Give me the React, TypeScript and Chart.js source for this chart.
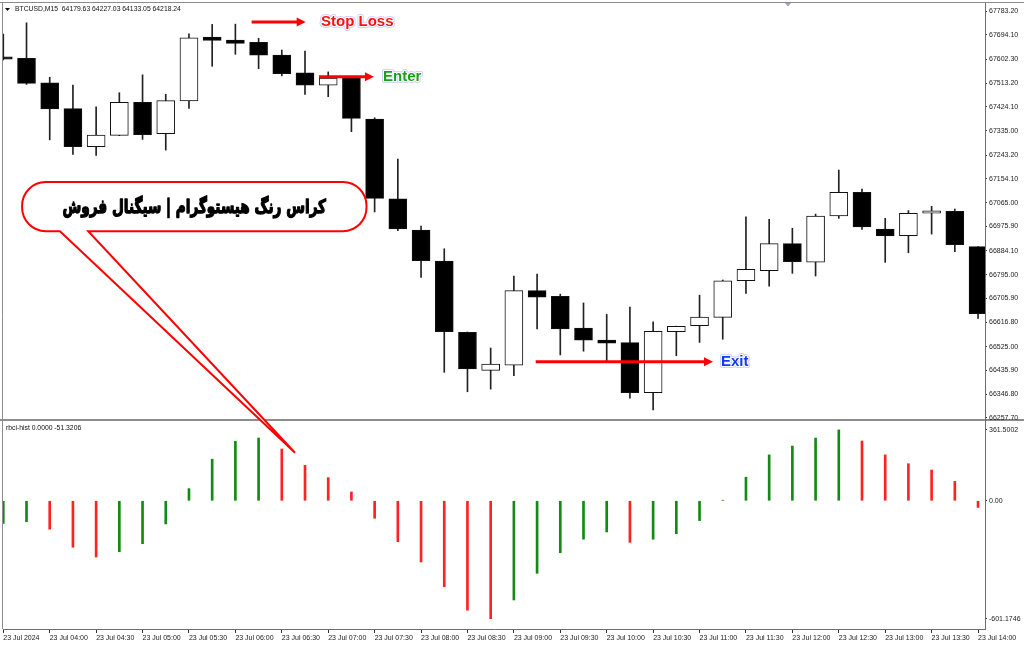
import React, { useEffect, useRef } from 'react';
import { Chart, registerables } from 'chart.js';

Chart.register(...registerables);

// ---------- data ----------
const TIME_LABELS = [
  '23 Jul 2024', '23 Jul 04:00', '23 Jul 04:30', '23 Jul 05:00', '23 Jul 05:30', '23 Jul 06:00',
  '23 Jul 06:30', '23 Jul 07:00', '23 Jul 07:30', '23 Jul 08:00', '23 Jul 08:30', '23 Jul 09:00',
  '23 Jul 09:30', '23 Jul 10:00', '23 Jul 10:30', '23 Jul 11:00', '23 Jul 11:30', '23 Jul 12:00',
  '23 Jul 12:30', '23 Jul 13:00', '23 Jul 13:30', '23 Jul 14:00',
];

const OPEN = [
  67611, 67606, 67514, 67417, 67275, 67317, 67441, 67323, 67446, 67685,
  67674, 67666, 67618, 67551, 67505, 67531, 67378, 67079, 66962, 66846,
  66579, 66436, 66456, 66735, 66714, 66595, 66550, 66540, 66353, 66581,
  66604, 66635, 66772, 66810, 66911, 66842, 67015, 67104, 66966, 66941,
  67025, 67032, 66900,
];
const HIGH = [
  67697, 67739, 67535, 67506, 67424, 67477, 67544, 67471, 67698, 67733,
  67734, 67681, 67637, 67633, 67555, 67536, 67383, 67228, 66977, 66892,
  66580, 66520, 66790, 66797, 66722, 66689, 66646, 66673, 66618, 66602,
  66718, 66775, 67012, 67002, 66969, 67022, 67187, 67116, 67006, 67035,
  67051, 67041, 66900,
];
const LOW = [
  67600, 67508, 67300, 67246, 67242, 67316, 67302, 67262, 67418, 67576,
  67621, 67567, 67540, 67471, 67462, 67331, 67030, 66960, 66785, 66429,
  66356, 66366, 66416, 66592, 66494, 66508, 66469, 66332, 66288, 66491,
  66541, 66553, 66725, 66752, 66800, 66790, 67006, 66965, 66841, 66877,
  66947, 66881, 66631,
];
const CLOSE = [
  67603, 67512, 67416, 67275, 67318, 67441, 67320, 67447, 67683, 67673,
  67662, 67618, 67548, 67505, 67532, 67381, 67081, 66966, 66847, 66581,
  66442, 66460, 66735, 66711, 66592, 66549, 66538, 66353, 66583, 66601,
  66636, 66772, 66815, 66911, 66844, 67015, 67104, 66974, 66940, 67025,
  67034, 66907, 66649,
];

const HIST = [
  -115, -107, -145, -237, -287, -260, -219, -118, 62, 212,
  303, 320, 264, 181, 118, 45, -89, -209, -312, -438,
  -558, -601.1746, -506, -370, -265, -196, -159, -212, -196, -168,
  -101, 3, 120, 234, 279, 320, 361.5002, 305, 234, 189,
  157, 99, -34,
];

const PRICE_TICKS = [
  67783.2, 67694.1, 67602.3, 67513.2, 67424.1, 67335.0, 67243.2, 67154.1, 67065.0,
  66975.9, 66884.1, 66795.0, 66705.9, 66616.8, 66525.0, 66435.9, 66346.8, 66257.7,
];
const HIST_TICKS = [361.5002, 0, -601.1746];
const HIST_TICK_LABELS = ['361.5002', '0.00', '-601.1746'];

const TITLE = 'BTCUSD,M15  64179.63 64227.03 64133.05 64218.24';
const SUBTITLE = 'rbci-hist 0.0000 -51.3206';
const BUBBLE_TEXT = 'کراس رنگ هیستوگرام | سیگنال فروش';

// annotations anchored in data units (bar index / price)
const SIGNALS = [
  { label: 'Stop Loss', price: 67742, fromBar: 10.7, toBar: 13.03, textBar: 13.69, color: '#ff1010' },
  { label: 'Enter', price: 67537, fromBar: 13.6, toBar: 15.97, textBar: 16.36, color: '#1c9e1c' },
  { label: 'Exit', price: 66469, fromBar: 22.94, toBar: 30.58, textBar: 30.92, color: '#1438f0' },
];
const BUBBLE = {
  leftBar: 0.81, rightBar: 15.65, topPrice: 67142, bottomPrice: 66958,
  tailBars: [2.44, 3.66], tipBar: 12.57, tipValue: 245,
};

// ---------- derived ----------
const BODY_FILL = OPEN.map((o, i) => (CLOSE[i] >= o ? '#ffffff' : '#000000'));
const HIST_COLORS = HIST.map((v, i) => (i === 0 || v >= HIST[i - 1] ? '#138a13' : '#ff2222'));

const AXIS_FONT = { family: '"Liberation Sans", Arial, sans-serif', size: 7 };

function haloText(ctx: any, text: string, x: number, y: number, color: string) {
  ctx.font = 'bold 15px "Liberation Sans", Arial, sans-serif';
  ctx.textAlign = 'left';
  ctx.textBaseline = 'middle';
  ctx.lineJoin = 'round';
  ctx.strokeStyle = 'rgba(205,205,255,0.9)';
  ctx.lineWidth = 4;
  ctx.strokeText(text, x, y);
  ctx.strokeStyle = '#ffffff';
  ctx.lineWidth = 2;
  ctx.strokeText(text, x, y);
  ctx.fillStyle = color;
  ctx.fillText(text, x, y);
}

const overlayPlugin = {
  id: 'overlay',
  beforeDraw(chart: any) {
    const { ctx, scales } = chart;
    ctx.save();
    ctx.fillStyle = '#8c8c8c';
    ctx.fillRect(0, scales.y.bottom - 1, chart.width, 2);
    ctx.restore();
  },
  afterDraw(chart: any) {
    const { ctx, chartArea: area, scales } = chart;
    const sx = scales.x;
    const sy = scales.y;
    const sh = scales.y2;
    const W = chart.width;
    ctx.save();

    // frame
    ctx.strokeStyle = '#8c8c8c';
    ctx.lineWidth = 1;
    ctx.beginPath();
    ctx.moveTo(0, area.top - 0.5);
    ctx.lineTo(W, area.top - 0.5);
    ctx.moveTo(area.left - 0.5, area.top - 0.5);
    ctx.lineTo(area.left - 0.5, area.bottom);
    ctx.stroke();
    // pane separator inside plot
    ctx.fillStyle = '#8c8c8c';
    ctx.fillRect(0, sy.bottom - 1, area.right, 2);

    // titles
    ctx.fillStyle = '#111';
    ctx.beginPath();
    ctx.moveTo(5, 8);
    ctx.lineTo(10, 8);
    ctx.lineTo(7.5, 11);
    ctx.closePath();
    ctx.fill();
    ctx.font = '6.8px "Liberation Sans", Arial, sans-serif';
    ctx.textAlign = 'left';
    ctx.textBaseline = 'middle';
    ctx.fillText(TITLE, 15, 9.5);
    ctx.fillText(SUBTITLE, 6, sh.top + 8.5);

    // small shift marker
    ctx.fillStyle = '#a0a0c0';
    ctx.beginPath();
    ctx.moveTo(785, 3);
    ctx.lineTo(791, 3);
    ctx.lineTo(788, 6.5);
    ctx.closePath();
    ctx.fill();

    // signal arrows + labels
    for (const s of SIGNALS) {
      const yy = sy.getPixelForValue(s.price);
      const x1 = sx.getPixelForValue(s.fromBar);
      const x2 = sx.getPixelForValue(s.toBar);
      ctx.strokeStyle = '#ff0000';
      ctx.lineWidth = 3;
      ctx.beginPath();
      ctx.moveTo(x1, yy);
      ctx.lineTo(x2 - 6, yy);
      ctx.stroke();
      ctx.fillStyle = '#ff0000';
      ctx.beginPath();
      ctx.moveTo(x2, yy);
      ctx.lineTo(x2 - 9, yy - 4.5);
      ctx.lineTo(x2 - 9, yy + 4.5);
      ctx.closePath();
      ctx.fill();
      haloText(ctx, s.label, sx.getPixelForValue(s.textBar), yy, s.color);
    }

    // speech bubble
    const bl = sx.getPixelForValue(BUBBLE.leftBar);
    const br = sx.getPixelForValue(BUBBLE.rightBar);
    const bt = sy.getPixelForValue(BUBBLE.topPrice);
    const bb = sy.getPixelForValue(BUBBLE.bottomPrice);
    const r = (bb - bt) / 2 - 1;
    const t1 = sx.getPixelForValue(BUBBLE.tailBars[0]);
    const t2 = sx.getPixelForValue(BUBBLE.tailBars[1]);
    const tipX = sx.getPixelForValue(BUBBLE.tipBar);
    const tipY = sh.getPixelForValue(BUBBLE.tipValue);
    ctx.beginPath();
    ctx.moveTo(t1, bb);
    ctx.lineTo(tipX, tipY);
    ctx.lineTo(t2, bb);
    ctx.lineTo(br - r, bb);
    ctx.arcTo(br, bb, br, bb - r, r);
    ctx.lineTo(br, bt + r);
    ctx.arcTo(br, bt, br - r, bt, r);
    ctx.lineTo(bl + r, bt);
    ctx.arcTo(bl, bt, bl, bt + r, r);
    ctx.lineTo(bl, bb - r);
    ctx.arcTo(bl, bb, bl + r, bb, r);
    ctx.closePath();
    ctx.fillStyle = '#ffffff';
    ctx.fill();
    ctx.strokeStyle = '#ff0000';
    ctx.lineWidth = 2;
    ctx.lineJoin = 'miter';
    ctx.stroke();

    // bubble text: heavy, slightly condensed to fit the bubble like the original
    const cx = (bl + br) / 2;
    const cy = (bt + bb) / 2 + 1;
    ctx.font = 'bold 19px "DejaVu Sans", sans-serif';
    ctx.textAlign = 'center';
    ctx.textBaseline = 'middle';
    ctx.direction = 'rtl';
    const tw = ctx.measureText(BUBBLE_TEXT).width;
    const target = (br - bl) * 0.765;
    ctx.translate(cx, cy);
    ctx.scale(target / tw, 1);
    ctx.fillStyle = '#000';
    ctx.strokeStyle = '#000';
    ctx.lineWidth = 1.3;
    ctx.lineJoin = 'round';
    ctx.strokeText(BUBBLE_TEXT, 0, 0);
    ctx.fillText(BUBBLE_TEXT, 0, 0);

    ctx.restore();
  },
};

export default function App() {
  const ref = useRef<HTMLCanvasElement>(null);

  useEffect(() => {
    const canvas = ref.current;
    if (!canvas) return;
    const chart = new Chart(canvas, {
      type: 'bar',
      data: {
        datasets: [
          {
            label: 'body',
            data: OPEN.map((o, i) => ({ x: i, y: [o, CLOSE[i]] })),
            yAxisID: 'y',
            grouped: false,
            barThickness: 18,
            backgroundColor: BODY_FILL,
            borderColor: '#111111',
            borderWidth: 1,
            borderSkipped: false,
            order: 0,
          } as any,
          {
            label: 'wick',
            data: LOW.map((l, i) => ({ x: i, y: [l, HIGH[i]] })),
            yAxisID: 'y',
            grouped: false,
            barThickness: 1,
            backgroundColor: '#222222',
            borderWidth: 0,
            order: 1,
          } as any,
          {
            label: 'rbci-hist',
            data: HIST.map((v, i) => ({ x: i, y: v })),
            yAxisID: 'y2',
            grouped: false,
            barThickness: 2,
            backgroundColor: HIST_COLORS,
            borderWidth: 0,
            order: 2,
          } as any,
        ],
      },
      options: {
        responsive: false,
        animation: false,
        devicePixelRatio: 1,
        layout: { padding: { left: 3, top: 3, right: 0, bottom: 0 } },
        plugins: { legend: { display: false }, tooltip: { enabled: false } },
        scales: {
          x: {
            type: 'linear',
            min: -0.013,
            max: 42.3,
            offset: false,
            bounds: 'data',
            afterBuildTicks: (s: any) => {
              s.ticks = TIME_LABELS.map((_, k) => ({ value: k * 2 }));
            },
            afterFit: (s: any) => {
              s.height = 17;
              s.paddingLeft = 0;
              s.paddingRight = 0;
            },
            ticks: {
              autoSkip: false,
              maxRotation: 0,
              minRotation: 0,
              align: 'start',
              padding: 1,
              color: '#1a1a1a',
              font: AXIS_FONT,
              callback: (v: any) => TIME_LABELS[Math.round(Number(v) / 2)] ?? '',
            },
            grid: { display: true, drawOnChartArea: false, drawTicks: true, tickLength: 4, color: '#333', offset: false },
            border: { display: true, color: '#6e6e6e', width: 1 },
          },
          y: {
            type: 'linear',
            position: 'right',
            stack: 'panes',
            stackWeight: 417,
            min: 66250.2,
            max: 67813.2,
            bounds: 'data',
            beginAtZero: false,
            afterBuildTicks: (s: any) => {
              s.ticks = PRICE_TICKS.map((v) => ({ value: v }));
            },
            afterFit: (s: any) => {
              s.width = 39;
              s.paddingTop = 0;
              s.paddingBottom = 0;
            },
            ticks: {
              autoSkip: false,
              padding: 2,
              color: '#1a1a1a',
              font: AXIS_FONT,
              callback: (v: any) => Number(v).toFixed(2),
            },
            grid: { display: true, drawOnChartArea: false, drawTicks: true, tickLength: 2, color: '#333' },
            border: { display: true, color: '#6e6e6e', width: 1 },
          },
          y2: {
            type: 'linear',
            position: 'right',
            stack: 'panes',
            stackWeight: 209,
            min: -654,
            max: 412,
            bounds: 'data',
            beginAtZero: false,
            afterBuildTicks: (s: any) => {
              s.ticks = HIST_TICKS.map((v) => ({ value: v }));
            },
            afterFit: (s: any) => {
              s.width = 39;
              s.paddingTop = 0;
              s.paddingBottom = 0;
            },
            ticks: {
              autoSkip: false,
              padding: 2,
              color: '#1a1a1a',
              font: AXIS_FONT,
              callback: (v: any) => {
                const k = HIST_TICKS.indexOf(Number(v));
                return k >= 0 ? HIST_TICK_LABELS[k] : '';
              },
            },
            grid: { display: true, drawOnChartArea: false, drawTicks: true, tickLength: 2, color: '#333' },
            border: { display: true, color: '#6e6e6e', width: 1 },
          },
        },
      } as any,
      plugins: [overlayPlugin],
    });
    return () => chart.destroy();
  }, []);

  return (
    <div style={{ position: 'absolute', left: 0, top: 0, width: 1024, height: 646, background: '#ffffff' }}>
      <canvas ref={ref} width={1024} height={646} style={{ display: 'block', width: 1024, height: 646 }} />
    </div>
  );
}
